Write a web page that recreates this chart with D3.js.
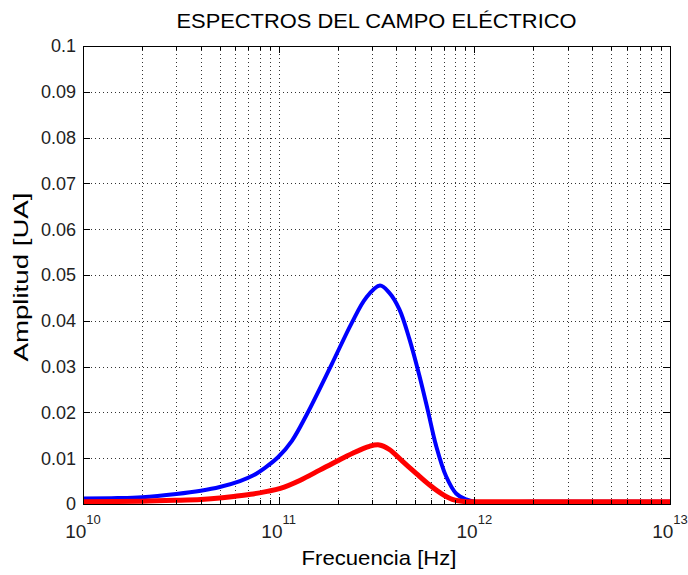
<!DOCTYPE html>
<html>
<head>
<meta charset="utf-8">
<script src="https://cdn.jsdelivr.net/npm/d3@7"></script>
<style>
  body { margin: 0; background: #fff; }
  text { font-family: "Liberation Sans", Arial, sans-serif; }
</style>
</head>
<body>
<div id="chart"></div>
<script>
// values
let blueFreq = [1e10, 1.5e10, 2e10, 3e10, 4e10, 5e10, 6.34e10, 7.39e10, 8.51e10, 9.92e10, 1.169e11, 1.39e11, 1.866e11, 2.361e11, 2.793e11, 3.293e11, 3.68e11, 4.14e11, 4.66e11, 5.24e11, 5.78e11, 6.37e11, 7.18e11, 8.07e11, 9.08e11, 1e12, 2e12, 5e12, 1e13];
let blueAmp  = [0.0012, 0.0013, 0.0015, 0.0022, 0.0029, 0.0037, 0.0050, 0.0062, 0.0079, 0.0102, 0.0138, 0.0195, 0.0305, 0.0395, 0.0450, 0.0477, 0.0461, 0.0425, 0.0360, 0.0280, 0.0205, 0.0128, 0.0060, 0.0023, 0.0010, 0.0005, 0.0005, 0.0005, 0.0005];

let redFreq = [1e10, 2e10, 3e10, 4e10, 5e10, 6e10, 7.4e10, 8.6e10, 1.02e11, 1.29e11, 1.62e11, 1.97e11, 2.39e11, 2.91e11, 3.27e11, 3.68e11, 4.3e11, 5.04e11, 5.89e11, 6.76e11, 7.72e11, 9.08e11, 1e12, 2e12, 5e12, 1e13];
let redAmp  = [0.0005, 0.0006, 0.0008, 0.0010, 0.0013, 0.0017, 0.0022, 0.0027, 0.0034, 0.0052, 0.0074, 0.0093, 0.0111, 0.0126, 0.0129, 0.0119, 0.0093, 0.0067, 0.0042, 0.0023, 0.0010, 0.0005, 0.0005, 0.0005, 0.0005, 0.0005];

let xMajor = [1e10, 1e11, 1e12, 1e13];
let xMajorExp = ["10", "11", "12", "13"];
let yTicks = [0, 0.01, 0.02, 0.03, 0.04, 0.05, 0.06, 0.07, 0.08, 0.09, 0.1];
let yTickLabels = ["0", "0.01", "0.02", "0.03", "0.04", "0.05", "0.06", "0.07", "0.08", "0.09", "0.1"];

let width = 688;
let height = 575;
let plot = {left: 83, right: 670, top: 46, bottom: 504};

let svg = d3.select("#chart")
  .append("svg")
  .attr("width", width)
  .attr("height", height);

let x = d3.scaleLog().domain([1e10, 1e13]).range([plot.left, plot.right]);
let y = d3.scaleLinear().domain([0, 0.1]).range([plot.bottom, plot.top]);

// minor positions 2..9 in every decade
let xMinor = [];
xMajor.slice(0, -1).forEach(function(d) {
  for (let k = 2; k <= 9; k++) xMinor.push(d * k);
});

// dotted grid
let grid = svg.append("g")
  .attr("stroke", "#333")
  .attr("stroke-width", 1)
  .attr("stroke-dasharray", "1,3");

grid.selectAll(".vgrid")
  .data(xMinor.concat(xMajor.slice(1, -1)))
  .enter()
  .append("line")
  .attr("x1", d => Math.round(x(d)) + 0.5)
  .attr("x2", d => Math.round(x(d)) + 0.5)
  .attr("y1", plot.top)
  .attr("y2", plot.bottom);

grid.selectAll(".hgrid")
  .data(yTicks.slice(1, -1))
  .enter()
  .append("line")
  .attr("x1", plot.left)
  .attr("x2", plot.right)
  .attr("y1", d => Math.round(y(d)) + 0.5)
  .attr("y2", d => Math.round(y(d)) + 0.5);

// curves
let line = d3.line()
  .x(d => x(d[0]))
  .y(d => y(d[1]))
  .curve(d3.curveCatmullRom.alpha(0.5));

svg.append("path")
  .datum(d3.zip(blueFreq, blueAmp))
  .attr("d", line)
  .attr("fill", "none")
  .attr("stroke", "#0000ff")
  .attr("stroke-width", 4)
  .attr("stroke-linejoin", "round");

svg.append("path")
  .datum(d3.zip(redFreq, redAmp))
  .attr("d", line)
  .attr("fill", "none")
  .attr("stroke", "#ff0000")
  .attr("stroke-width", 5)
  .attr("stroke-linejoin", "round");

// ticks (inward, on all four sides)
let ticks = svg.append("g").attr("stroke", "#000").attr("stroke-width", 1);

[plot.bottom, plot.top].forEach(function(edge) {
  let dir = edge === plot.bottom ? -1 : 1;
  ticks.selectAll(null)
    .data(xMinor)
    .enter()
    .append("line")
    .attr("x1", d => Math.round(x(d)) + 0.5)
    .attr("x2", d => Math.round(x(d)) + 0.5)
    .attr("y1", edge)
    .attr("y2", edge + dir * 4);
  ticks.selectAll(null)
    .data(xMajor)
    .enter()
    .append("line")
    .attr("x1", d => Math.round(x(d)) + 0.5)
    .attr("x2", d => Math.round(x(d)) + 0.5)
    .attr("y1", edge)
    .attr("y2", edge + dir * 7);
});

[plot.left, plot.right].forEach(function(edge) {
  let dir = edge === plot.left ? 1 : -1;
  ticks.selectAll(null)
    .data(yTicks)
    .enter()
    .append("line")
    .attr("x1", edge)
    .attr("x2", edge + dir * 7)
    .attr("y1", d => Math.round(y(d)) + 0.5)
    .attr("y2", d => Math.round(y(d)) + 0.5);
});

// box
svg.append("rect")
  .attr("x", plot.left + 0.5)
  .attr("y", plot.top + 0.5)
  .attr("width", plot.right - plot.left)
  .attr("height", plot.bottom - plot.top)
  .attr("fill", "none")
  .attr("stroke", "#000")
  .attr("stroke-width", 1);

// y tick labels
svg.selectAll(".ylab")
  .data(yTicks)
  .enter()
  .append("text")
  .attr("x", plot.left - 7)
  .attr("y", d => y(d))
  .attr("dy", "0.36em")
  .attr("text-anchor", "end")
  .style("font-size", "18px")
  .style("fill", "#222")
  .text((d, i) => yTickLabels[i]);

// x tick labels: 10^n, whole label centred on the tick
let xl = svg.selectAll(".xlab")
  .data(xMajor)
  .enter()
  .append("text")
  .attr("x", d => x(d))
  .attr("y", 538)
  .attr("text-anchor", "middle")
  .style("font-size", "19px")
  .style("fill", "#222");
xl.append("tspan").text("10");
xl.append("tspan")
  .attr("dy", -14)
  .style("font-size", "13px")
  .text((d, i) => xMajorExp[i]);

// titles
svg.append("text")
  .attr("x", (plot.left + plot.right) / 2)
  .attr("y", 28)
  .attr("text-anchor", "middle")
  .attr("textLength", 400)
  .attr("lengthAdjust", "spacingAndGlyphs")
  .style("font-size", "21px")
  .style("fill", "#000")
  .text("ESPECTROS DEL CAMPO ELÉCTRICO");

svg.append("text")
  .attr("x", 379)
  .attr("y", 565)
  .attr("text-anchor", "middle")
  .attr("textLength", 155)
  .attr("lengthAdjust", "spacingAndGlyphs")
  .style("font-size", "21px")
  .style("fill", "#000")
  .text("Frecuencia [Hz]");

svg.append("text")
  .attr("transform", "translate(28,277) rotate(-90)")
  .attr("text-anchor", "middle")
  .attr("textLength", 169)
  .attr("lengthAdjust", "spacingAndGlyphs")
  .style("font-size", "21px")
  .style("fill", "#000")
  .text("Amplitud [UA]");
</script>
</body>
</html>
